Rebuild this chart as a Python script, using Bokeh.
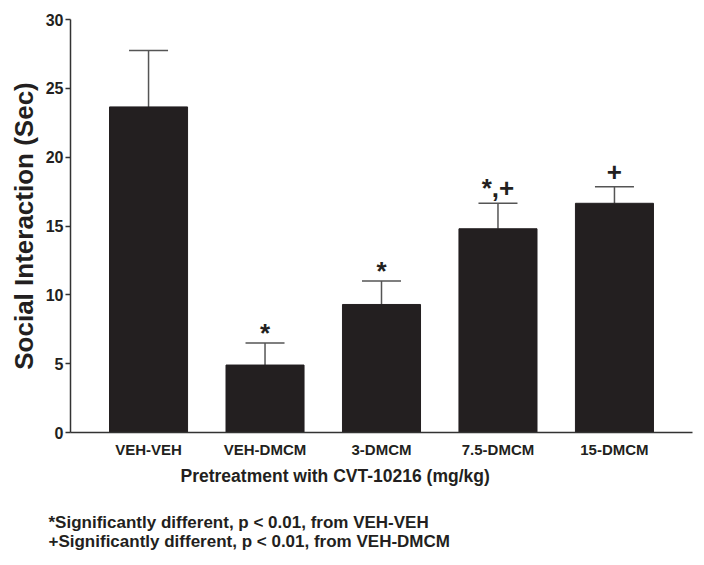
from bokeh.plotting import figure
from bokeh.models import FactorRange, Range1d, FixedTicker, Whisker, TeeHead, ColumnDataSource, Title
from bokeh.core.properties import value
from bokeh.embed import file_html
from bokeh.resources import INLINE

# ---- data ----
groups = ["VEH-VEH", "VEH-DMCM", "3-DMCM", "7.5-DMCM", "15-DMCM"]
means = [23.65, 4.9, 9.3, 14.8, 16.65]
sems = [4.1, 1.6, 1.7, 1.85, 1.2]
marks = ["", "*", "*", "*,+", "+"]
y_ticks = [0, 5, 10, 15, 20, 25, 30]
x_title = "Pretreatment with CVT-10216 (mg/kg)"
y_title = "Social Interaction (Sec)"
footnotes = [
    "*Significantly different, p < 0.01, from VEH-VEH",
    "+Significantly different, p < 0.01, from VEH-DMCM",
]

FONT = "Liberation Sans"
INK = "#231f20"

upper = [m + s for m, s in zip(means, sems)]
mark_offset = [-15 if "+" in t else -10 for t in marks]
src = ColumnDataSource(dict(g=groups, m=means, up=upper, t=marks, yo=mark_offset))

p = figure(
    x_range=FactorRange(factors=groups, range_padding=0.068),
    y_range=Range1d(0, 30),
    width=700, height=560,
    output_backend="svg", toolbar_location=None,
    min_border_left=70, min_border_right=8, min_border_top=19, min_border_bottom=128,
)
p.outline_line_color = None
p.xgrid.grid_line_color = None
p.ygrid.grid_line_color = None
p.background_fill_color = "white"
p.border_fill_color = "white"

p.vbar(x="g", top="m", width=0.67, source=src, fill_color=INK, line_color=INK)

wh = Whisker(source=src, base="g", lower="m", upper="up", dimension="height",
             line_color="#555555", line_width=1.5,
             upper_head=TeeHead(size=39, line_color="#555555", line_width=1.5),
             lower_head=None)
p.add_layout(wh)

p.text(x="g", y="up", text="t", source=src, y_offset="yo",
       text_align="center", text_baseline="alphabetic",
       text_font=value(FONT), text_font_style="bold", text_font_size="26px",
       text_color=INK)

# axes
p.yaxis.ticker = FixedTicker(ticks=y_ticks)
p.yaxis.minor_tick_line_color = None
p.yaxis.major_tick_out = 5
p.yaxis.major_tick_in = 0
p.yaxis.major_label_standoff = 2
p.yaxis.axis_label = y_title
p.yaxis.axis_label_text_font = FONT
p.yaxis.axis_label_text_font_style = "bold"
p.yaxis.axis_label_text_font_size = "26px"
p.yaxis.axis_label_text_color = INK
p.yaxis.axis_label_standoff = 4

p.xaxis.major_tick_out = 0
p.xaxis.major_label_standoff = 8

for ax in (p.xaxis, p.yaxis):
    ax.axis_line_color = "#333333"
    ax.axis_line_width = 1.5
    ax.major_tick_line_width = 1.5
    ax.major_label_text_font = FONT
    ax.major_label_text_font_style = "bold"
    ax.major_label_text_color = INK
p.xaxis.major_tick_line_color = None
p.yaxis.major_tick_line_color = "#333333"
p.yaxis.major_label_text_font_size = "16px"
p.xaxis.major_label_text_font_size = "15px"

p.add_layout(Title(text=x_title, align="left", offset=110,
                   text_font=FONT, text_font_style="bold", text_font_size="17.5px",
                   text_color=INK, standoff=6), "below")
# spacer between the axis title and the footnotes
p.add_layout(Title(text=" ", text_font_size="1px", standoff=21), "below")
p.add_layout(Title(text="\n".join(footnotes), align="left", offset=-22,
                   text_font=FONT, text_font_style="bold", text_font_size="17px",
                   text_line_height=1.05, vertical_align="top",
                   text_color=INK, standoff=0), "below")

open("out.html", "w").write(file_html(p, INLINE))
